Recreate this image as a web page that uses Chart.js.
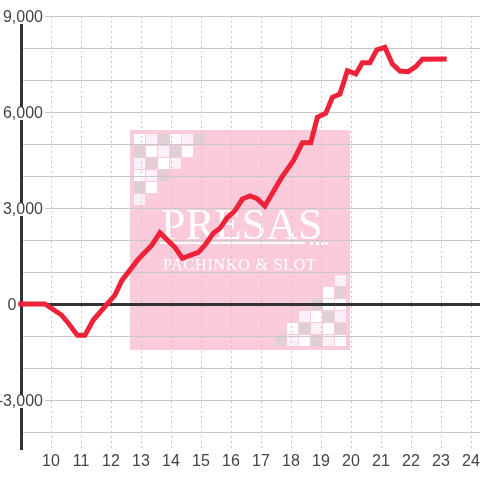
<!DOCTYPE html>
<html>
<head>
<meta charset="utf-8">
<script src="https://cdn.jsdelivr.net/npm/chart.js@4/dist/chart.umd.min.js"></script>
<style>
html, body { margin:0; padding:0; background:#fff; }
#wrap { width:480px; height:480px; }
</style>
</head>
<body>
<div id="wrap"><canvas id="slump" width="480" height="480"></canvas></div>
<script>
// game time (hours) and coin difference
const hours = [8.91,9.8,10.35,10.58,10.88,11.13,11.41,11.9,12.13,12.36,12.91,13.36,13.63,14.13,14.38,14.91,15.13,15.41,15.63,15.86,16.13,16.38,16.63,16.86,17.13,17.69,18.08,18.38,18.66,18.88,19.16,19.38,19.63,19.88,20.16,20.38,20.63,20.86,21.13,21.38,21.63,21.91,22.16,22.38,23.19];
const coins = [0,0,-344,-600,-980,-980,-500,30,280,730,1400,1840,2230,1770,1430,1615,1840,2210,2365,2680,2915,3280,3375,3300,3060,3960,4480,5040,5040,5834,5960,6460,6560,7290,7190,7540,7540,7940,8020,7500,7280,7260,7420,7650,7660];

const xTicks = [9,10,11,12,13,14,15,16,17,18,19,20,21,22,23,24];
const yTicks = [9000,8000,7000,6000,5000,4000,3000,2000,1000,0,-1000,-2000,-3000,-4000];

// logo squares behind the chart: w white, l lavender, g grey
const logoCorner1 = ["wlgwlg","gwlgw","lgwl","wlg","gw","l"];
const logoCorner2 = ["     l","    wg","   gww","  lwgl"," wglwg","glwglw"];
const squareColors = { w:"#ffffff", l:"#fdf0f8", g:"#e2cfd4" };

function drawSquares(ctx, rows, left, top) {
    rows.forEach((row, r) => {
        [...row].forEach((c, i) => {
            if (c === " ") return;
            ctx.fillStyle = squareColors[c];
            ctx.fillRect(left + i * 12, top + r * 12, 11, 11);
        });
    });
}

const logo = {
    id: "logo",
    beforeDraw(chart) {
        const ctx = chart.ctx;
        ctx.save();
        ctx.fillStyle = "#fccbdb";
        ctx.fillRect(130, 130, 220, 220);
        drawSquares(ctx, logoCorner1, 134, 134);
        drawSquares(ctx, logoCorner2, 275, 275);

        ctx.fillStyle = "#ffffff";
        ctx.textBaseline = "alphabetic";
        ctx.textAlign = "left";
        ctx.font = "44px 'Liberation Serif'";
        ctx.fillText("PRESAS", 161, 239);
        ctx.font = "16px 'Liberation Serif'";
        ctx.letterSpacing = "0.8px";
        ctx.fillText("PACHINKO & SLOT", 163, 270);
        ctx.letterSpacing = "0px";

        // underline and dots under the name
        ctx.fillRect(160, 242, 145, 2);
        [310, 316, 321, 325].forEach(x => ctx.fillRect(x, 242, 3, 3));
        ctx.restore();
    }
};

// "0" sits further left than the other labels, hence the trailing spaces
function yLabel(v) {
    if (v === 0) return "0      ";
    return v % 3000 === 0 ? v.toLocaleString("en-US") : "";
}

new Chart(document.getElementById("slump"), {
    type: "line",
    data: {
        datasets: [{
            data: hours.map((h, i) => ({ x: h, y: coins[i] })),
            borderColor: "#ee2239",
            borderWidth: 5,
            pointRadius: 0,
            tension: 0,
            clip: false
        }]
    },
    options: {
        responsive: false,
        animation: false,
        layout: { padding: { top: 16, left: 0, right: 0, bottom: 0 } },
        plugins: { legend: { display: false }, tooltip: { enabled: false } },
        scales: {
            x: {
                type: "linear",
                min: 9,
                max: 24.3,
                afterBuildTicks(scale) { scale.ticks = xTicks.map(v => ({ value: v })); },
                afterFit(scale) {
                    scale.height = 31;
                    scale.paddingLeft = 0;
                    scale.paddingRight = 0;
                },
                grid: {
                    color: "#c8c8c8",
                    lineWidth: 1,
                    drawTicks: false
                },
                border: { display: false, dash: [2, 3] },
                ticks: {
                    maxRotation: 0,
                    autoSkip: false,
                    padding: 3,
                    color: "#444",
                    font: { family: "Liberation Sans", size: 16 },
                    callback: v => (v === 9 ? "" : String(v))
                }
            },
            y: {
                min: -4531,
                max: 9000,
                afterBuildTicks(scale) { scale.ticks = yTicks.map(v => ({ value: v })); },
                afterFit(scale) {
                    scale.width = 21;
                    // labels run over the plot, so they must not be clipped to the scale box
                    scale._computeLabelArea = () => undefined;
                },
                grid: {
                    color: ctx => (ctx.tick && ctx.tick.value === 0 ? "#333333" : "#c8c8c8"),
                    lineWidth: ctx => (ctx.tick && ctx.tick.value === 0 ? 3 : 1),
                    drawTicks: false
                },
                border: { display: true, color: "#333333", width: 3 },
                ticks: {
                    autoSkip: false,
                    padding: -22,
                    labelOffset: 2,
                    color: "#444",
                    font: { family: "Liberation Sans", size: 16, lineHeight: 1 },
                    showLabelBackdrop: true,
                    backdropColor: ctx => (ctx.tick.value !== 0 && ctx.tick.value % 3000 === 0 ? "#ffffff" : "rgba(0,0,0,0)"),
                    backdropPadding: { top: -1, bottom: -2, left: 2, right: 2 },
                    callback: yLabel
                }
            }
        }
    },
    plugins: [logo]
});
</script>
</body>
</html>
